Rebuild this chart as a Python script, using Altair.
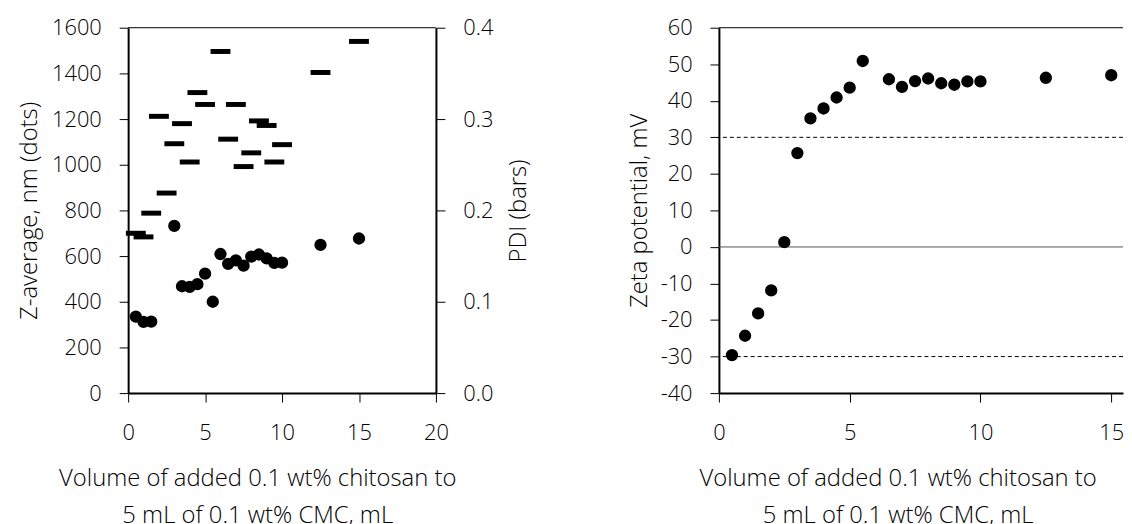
import altair as alt
import pandas as pd

# ---------------- data ----------------
z_vol = [0.5, 1.0, 1.5, 3.0, 3.5, 4.0, 4.5, 5.0, 5.5, 6.0, 6.5, 7.0, 7.5, 8.0, 8.5,
         9.0, 9.5, 10.0, 12.5, 15.0]
z_avg = [335, 312, 313, 732, 468, 465, 477, 523, 400, 609, 566, 581, 558, 598, 607,
         590, 570, 571, 649, 677]

pdi_vol = [0.5, 1.0, 1.5, 2.0, 2.5, 3.0, 3.5, 4.0, 4.5, 5.0, 6.0, 6.5, 7.0, 7.5, 8.0,
           8.5, 9.0, 9.5, 10.0, 12.5, 15.0]
pdi = [0.175, 0.171, 0.197, 0.303, 0.219, 0.273, 0.295, 0.253, 0.329, 0.316, 0.374,
       0.278, 0.316, 0.248, 0.263, 0.298, 0.293, 0.253, 0.272, 0.351, 0.385]

zeta_vol = [0.5, 1.0, 1.5, 2.0, 2.5, 3.0, 3.5, 4.0, 4.5, 5.0, 5.5, 6.5, 7.0, 7.5, 8.0,
            8.5, 9.0, 9.5, 10.0, 12.5, 15.0]
zeta = [-29.6, -24.3, -18.2, -11.9, 1.3, 25.7, 35.2, 37.9, 40.9, 43.6, 50.9, 45.9, 43.8,
        45.4, 46.1, 44.8, 44.4, 45.3, 45.3, 46.3, 47.0]

dashed_levels = [30, -30]
zero_level = [0]

z_ticks = [0, 200, 400, 600, 800, 1000, 1200, 1400, 1600]
pdi_ticks = [0.0, 0.1, 0.2, 0.3, 0.4]
x_left_ticks = [0, 5, 10, 15, 20]
x_right_ticks = [0, 5, 10, 15]
zeta_ticks = [-40, -30, -20, -10, 0, 10, 20, 30, 40, 50, 60]

x_title = ["Volume of added 0.1 wt% chitosan to", "5 mL of 0.1 wt% CMC, mL"]

# ---------------- tables ----------------
df_z = pd.DataFrame({"vol": z_vol, "z": z_avg})
df_pdi = pd.DataFrame({"vol": pdi_vol, "pdi": pdi})
df_zeta = pd.DataFrame({"vol": zeta_vol, "zeta": zeta})
df_dash = pd.DataFrame({"zeta": dashed_levels})
df_zero = pd.DataFrame({"zeta": zero_level})
df_one = pd.DataFrame({"a": [0]})

FONT = "Open Sans"
FS = 22
TFS = 24
FW = 300
H = 368
WL = 310
WR = 407

common_x_axis = dict(
    titleAlign="center", titleBaseline="alphabetic", titleLineHeight=37,
    titleY=93, labelPadding=21, labelFlush=False,
)

# ---------------- left panel ----------------
x_left_scale = alt.Scale(domain=[0, 20], nice=False, zero=False)
x_left = alt.X(
    "vol:Q", scale=x_left_scale,
    axis=alt.Axis(values=x_left_ticks, title=x_title, titleX=130, **common_x_axis),
)

dots = alt.Chart(df_z).mark_circle(size=154, color="black", opacity=1).encode(
    x=x_left,
    y=alt.Y("z:Q", scale=alt.Scale(domain=[0, 1600], nice=False),
            axis=alt.Axis(values=z_ticks, title="Z-average, nm (dots)", titlePadding=10,
                          format="d", orient="left", labelOverlap=False, labelFlush=False)),
)

bars = alt.Chart(df_pdi).mark_tick(
    orient="horizontal", size=20, thickness=5, color="black", opacity=1
).encode(
    x=x_left,
    y=alt.Y("pdi:Q", scale=alt.Scale(domain=[0, 0.4], nice=False),
            axis=alt.Axis(values=pdi_ticks, title="PDI (bars)", format=".1f", orient="right",
                          titleAngle=270, titleBaseline="top", titlePadding=14,
                          labelOverlap=False, labelFlush=False)),
)

top_left = alt.Chart(df_one).mark_rule(color="black", strokeWidth=1).encode(
    y=alt.value(0)
)

left = alt.layer(top_left, bars, dots).resolve_scale(y="independent").properties(
    width=WL, height=H
)

# ---------------- right panel ----------------
x_right = alt.X(
    "vol:Q",
    scale=alt.Scale(domain=[0, 15.45], nice=False, zero=False),
    axis=alt.Axis(values=x_right_ticks, title=x_title, titleX=180, **common_x_axis),
)
y_right_scale = alt.Scale(domain=[-40, 60], nice=False, zero=False)
y_right_axis = alt.Axis(values=zeta_ticks, title="Zeta potential, mV", titlePadding=9,
                        labelOverlap=False, labelFlush=False,
                        labelExpr="replace(datum.label, '\u2212', '-')")
y_right = alt.Y("zeta:Q", scale=y_right_scale, axis=y_right_axis)

zero_rule = alt.Chart(df_zero).mark_rule(color="#555555", strokeWidth=1).encode(y=y_right)
dash_rule = alt.Chart(df_dash).mark_rule(color="black", strokeWidth=1, strokeDash=[4, 3]).encode(
    y=y_right
)
zeta_dots = alt.Chart(df_zeta).mark_circle(size=154, color="black", opacity=1).encode(
    x=x_right, y=y_right
)
top_right = alt.Chart(df_one).mark_rule(color="black", strokeWidth=1).encode(
    y=alt.value(0)
)

right = alt.layer(top_right, zero_rule, dash_rule, zeta_dots).properties(width=WR, height=H)

chart = alt.hconcat(left, right, spacing=96).properties(
    padding={"left": 9, "top": 7, "right": 0, "bottom": 0}
).configure_view(stroke=None).configure_axis(
    labelFont=FONT, labelFontSize=FS, labelFontWeight=FW, labelColor="black", labelPadding=18,
    titleFont=FONT, titleFontSize=TFS, titleFontWeight=FW, titleColor="black",
    tickColor="black", tickSize=9, tickWidth=1,
    domainColor="black", domainWidth=2, grid=False,
)

chart.save("out.html", embed_options={"renderer": "svg", "actions": False})
